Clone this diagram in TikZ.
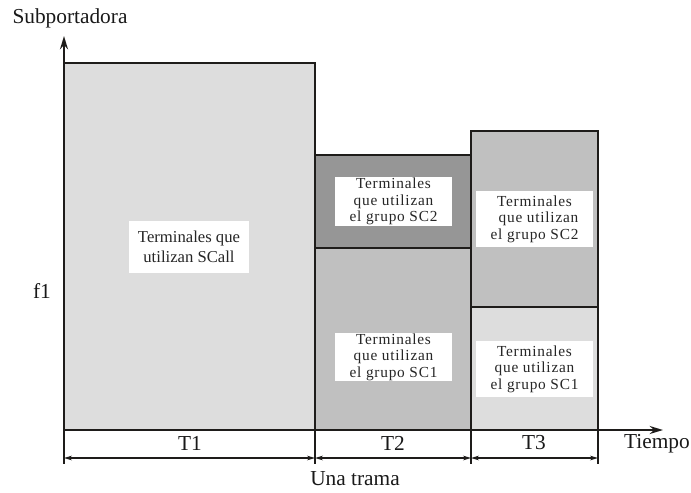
\documentclass[tikz,border=0pt]{standalone}
\usepackage{fontspec}
\setmainfont{Liberation Serif}
\usetikzlibrary{arrows.meta}
\definecolor{glight}{RGB}{221,221,221}
\definecolor{gmid}{RGB}{192,192,192}
\definecolor{gdark}{RGB}{150,150,150}
\definecolor{edge}{RGB}{30,28,26}
\begin{document}
\begin{tikzpicture}[x=0.75pt,y=-0.75pt,
 axisline/.style={draw=edge, line width=1.5pt, -{Stealth[length=10pt,width=6pt]}},
 block/.style={draw=edge, line width=1.6pt},
 tick/.style={draw=edge, line width=1.5pt},
 dimline/.style={draw=edge, line width=0.9pt, {Stealth[length=6pt,width=3.5pt]}-{Stealth[length=6pt,width=3.5pt]}},
 lbl/.style={font=\fontsize{16}{19}\selectfont, inner sep=0pt, text=black!90},
 tbox/.style={fill=white, inner sep=0pt, align=center, text=black!85,
   font=\fontsize{11.5}{12.3}\selectfont\addfontfeature{LetterSpace=5}, minimum width=87.75pt},
]
\useasboundingbox (0,0) rectangle (691,492);
% blocks
\draw[block, fill=glight] (64,63) rectangle (315,430);
\draw[block, fill=gmid] (315,248) rectangle (471,430);
\draw[block, fill=gdark] (315,155) rectangle (471,248);
\draw[block, fill=gmid] (471,131) rectangle (598,307);
\draw[block, fill=glight] (471,307) rectangle (598,430);
% text boxes
\node[tbox, minimum width=90pt, minimum height=39pt, font=\fontsize{12.5}{15}\selectfont] (scall) at (189,247) {Terminales que\\utilizan SCall};
\node[tbox, minimum height=36.75pt] (sctwoA) at (393.5,201.5) {Terminales\\que utilizan\\el grupo SC2};
\node[tbox, minimum height=42pt] (sctwoB) at (534.5,219) {Terminales\\\hspace*{6pt}que utilizan\\el grupo SC2};
\node[tbox, minimum height=36pt] (sconeA) at (393.5,357) {Terminales\\que utilizan\\el grupo SC1};
\node[tbox, minimum height=42pt] (sconeB) at (534.5,369) {Terminales\\que utilizan\\el grupo SC1};
% axes
\coordinate (o) at (64,430);
\coordinate (ytip) at (64,36);
\coordinate (xtip) at (663,430);
\draw[axisline] (o) -- (ytip);
\draw[axisline] (o) -- (xtip);
% ticks
\coordinate (ta) at (64,430);   \coordinate (tab) at (64,464);
\coordinate (tb) at (315,430);  \coordinate (tbb) at (315,464);
\coordinate (tc) at (471,430);  \coordinate (tcb) at (471,464);
\coordinate (td) at (598,430);  \coordinate (tdb) at (598,464);
\draw[tick] (ta) -- (tab);
\draw[tick] (tb) -- (tbb);
\draw[tick] (tc) -- (tcb);
\draw[tick] (td) -- (tdb);
% dimension arrows
\coordinate (da) at (64,458);
\coordinate (db) at (315,458);
\coordinate (dc) at (471,458);
\coordinate (dd) at (598,458);
\draw[dimline] (da) -- (db);
\draw[dimline] (db) -- (dc);
\draw[dimline] (dc) -- (dd);
% labels
\node[lbl] (tone) at (190,443) {T1};
\node[lbl] (ttwo) at (393,443) {T2};
\node[lbl] (tthree) at (534,443) {T3};
\node[lbl] (tiempo) at (657,444) {Tiempo};
\node[lbl] (trama) at (355,479) {Una trama};
\node[lbl] (fone) at (42,291) {f1};
\node[lbl] (subp) at (70,18) {Subportadora};
\end{tikzpicture}
\end{document}
